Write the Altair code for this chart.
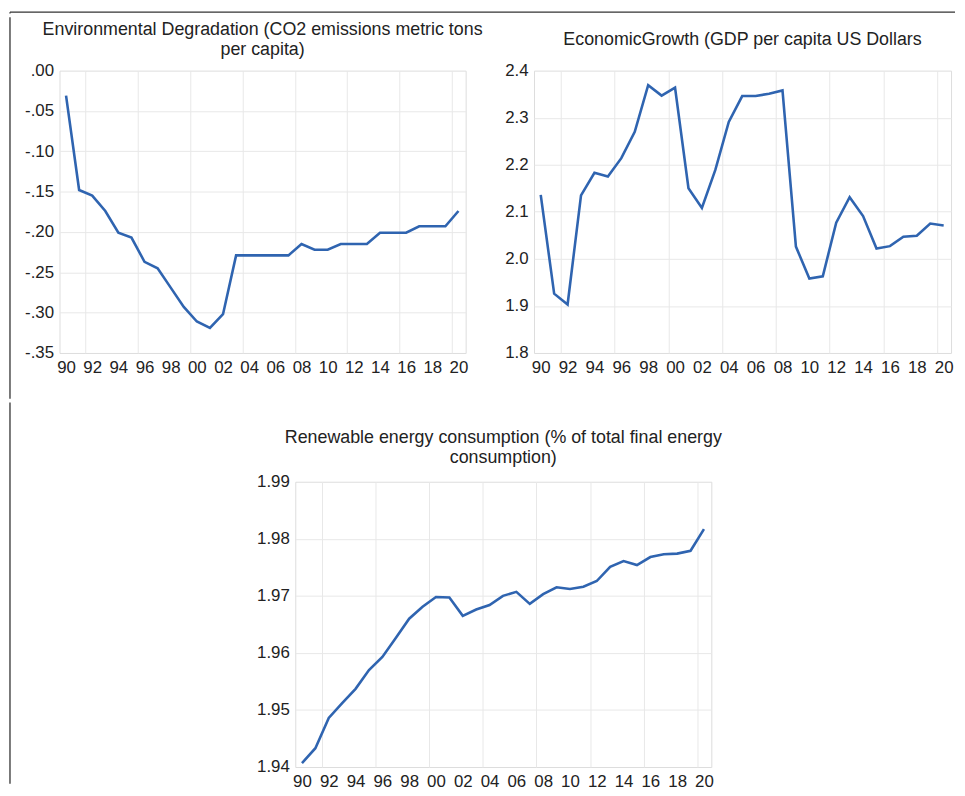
import altair as alt
import pandas as pd

years = list(range(1990, 2021))

co2 = [-0.031, -0.148, -0.155, -0.174, -0.201, -0.207, -0.237, -0.245, -0.269, -0.293,
       -0.311, -0.319, -0.302, -0.229, -0.229, -0.229, -0.229, -0.229, -0.215, -0.222,
       -0.222, -0.215, -0.215, -0.215, -0.201, -0.201, -0.201, -0.193, -0.193, -0.193,
       -0.174]

gdp = [2.136, 1.926, 1.903, 2.135, 2.183, 2.175, 2.214, 2.270, 2.369, 2.347,
       2.364, 2.150, 2.108, 2.189, 2.291, 2.346, 2.346, 2.351, 2.358, 2.026,
       1.958, 1.963, 2.077, 2.131, 2.091, 2.022, 2.027, 2.047, 2.049, 2.075,
       2.071]

ren = [1.9407, 1.9433, 1.9486, 1.9512, 1.9537, 1.9570, 1.9593, 1.9626, 1.9660, 1.9681,
       1.9698, 1.9697, 1.9665, 1.9676, 1.9684, 1.9700, 1.9707, 1.9686, 1.9703, 1.9715,
       1.9712, 1.9716, 1.9726, 1.9751, 1.9761, 1.9754, 1.9768, 1.9773, 1.9774, 1.9779,
       1.9817]

x_label_years = [1990, 1992, 1994, 1996, 1998, 2000, 2002, 2004, 2006, 2008,
                 2010, 2012, 2014, 2016, 2018, 2020]
x_grid_pos = [1991.5, 1995.5, 1999.5, 2003.5, 2007.5, 2011.5, 2015.5, 2019.5]

co2_ticks = [0.0, -0.05, -0.10, -0.15, -0.20, -0.25, -0.30, -0.35]
gdp_ticks = [1.8, 1.9, 2.0, 2.1, 2.2, 2.3, 2.4]
ren_ticks = [1.94, 1.95, 1.96, 1.97, 1.98, 1.99]

title_co2 = ["Environmental Degradation (CO2 emissions metric tons", "per capita)"]
title_gdp = ["EconomicGrowth (GDP per capita US Dollars"]
title_ren = ["Renewable energy consumption (% of total final energy", "consumption)"]

BLUE = "#2f64b0"
GRID = "#e8e8e8"
FRAME = "#333333"
FONT = "Liberation Sans"
TXT = "#222222"
FS = 17
TFS = 18

NO_VIEW = alt.ViewBackground(stroke="transparent", fill="transparent")


def x_enc():
    return alt.X(
        "year:Q",
        scale=alt.Scale(domain=[1989.5, 2020.55], nice=False, zero=False),
        axis=alt.Axis(
            values=x_label_years + x_grid_pos,
            title=None, domain=False, ticks=False,
            labelExpr="datum.value % 1 == 0 ? substring(toString(datum.value), 2, 4) : ''",
            gridColor=alt.condition("datum.value % 1 != 0", alt.value(GRID), alt.value("transparent")),
            gridWidth=1,
            labelOverlap=False, labelFlush=False, labelPadding=7,
            labelFontSize=FS, labelFont=FONT, labelColor=TXT,
        ),
    )


def y_enc(domain, ticks, fmt, grid_test):
    return alt.Y(
        "value:Q",
        scale=alt.Scale(domain=domain, nice=False, zero=False),
        axis=alt.Axis(
            values=ticks, title=None, domain=False, ticks=False,
            labelExpr=fmt,
            gridColor=alt.condition(grid_test, alt.value(GRID), alt.value("transparent")),
            gridWidth=1,
            labelOverlap=False, labelFlush=False, labelPadding=6,
            labelFontSize=FS, labelFont=FONT, labelColor=TXT,
        ),
    )


def panel(values, title, domain, ticks, fmt, grid_test, w, h, offset):
    df = pd.DataFrame({"year": years, "value": values})
    return alt.Chart(df).mark_line(color=BLUE, strokeWidth=2.6).encode(
        x=x_enc(),
        y=y_enc(domain, ticks, fmt, grid_test),
    ).properties(
        width=w, height=h,
        title=alt.TitleParams(text=title, fontSize=TFS, font=FONT, color=TXT,
                              fontWeight="normal", anchor="middle", frame="group",
                              offset=offset, lineHeight=20),
    )


frame_src = pd.DataFrame({"k": [0]})


def rule(x, y, x2=None, y2=None, visible=True):
    enc = {"x": alt.value(x), "y": alt.value(y)}
    if x2 is not None:
        enc["x2"] = alt.value(x2)
    if y2 is not None:
        enc["y2"] = alt.value(y2)
    return alt.Chart(frame_src).mark_rule(
        color=FRAME, strokeWidth=1.3, opacity=1 if visible else 0
    ).encode(**enc)


# Row A: top edge of the frame (origin aligned with the left plot)
row_a = alt.layer(
    rule(-50, 0, x2=904),
    rule(-50, 0, y2=1.3),
).properties(width=1, height=1, view=NO_VIEW)

# Row B: the two upper panels
left = alt.layer(
    panel(co2, title_co2, [-0.35, 0.0], co2_ticks,
          "(datum.value < 0 ? '-' : '') + replace(format(abs(datum.value), '.2f'), '0.', '.')",
          "datum.value > -0.34 && datum.value < -0.01", 410, 285, -43),
    rule(-50, -54, y2=331.3),
    rule(-50, -54, x2=432, visible=False),
)

right = alt.layer(
    panel(gdp, title_gdp, [1.8, 2.4], gdp_ticks,
          "format(datum.value, '.1f')",
          "datum.value > 1.85 && datum.value < 2.35", 421, 285, -30.3),
    rule(-45, -52.5, x2=400, visible=False),
)

row_b = alt.hconcat(left, right, spacing=0)

# Row C: spacer carrying the frame edge, then the lower panel
spacer = alt.layer(
    rule(-50, -80, y2=305),
).properties(width=176, height=1, view=NO_VIEW)

bottom = alt.layer(
    panel(ren, title_ren, [1.94, 1.99], ren_ticks,
          "format(datum.value, '.2f')",
          "datum.value > 1.945 && datum.value < 1.985", 420, 288, -65),
    rule(-60, -80, x2=0, visible=False),
)

row_c = alt.hconcat(spacer, bottom, spacing=0)

chart = alt.vconcat(row_a, row_b, row_c, spacing=0).properties(
    padding={"left": 0, "top": -1.5, "right": 0, "bottom": 0},
).configure_view(stroke=None).configure(background="white")

chart.save("out.html", embed_options={"renderer": "svg", "actions": False})
